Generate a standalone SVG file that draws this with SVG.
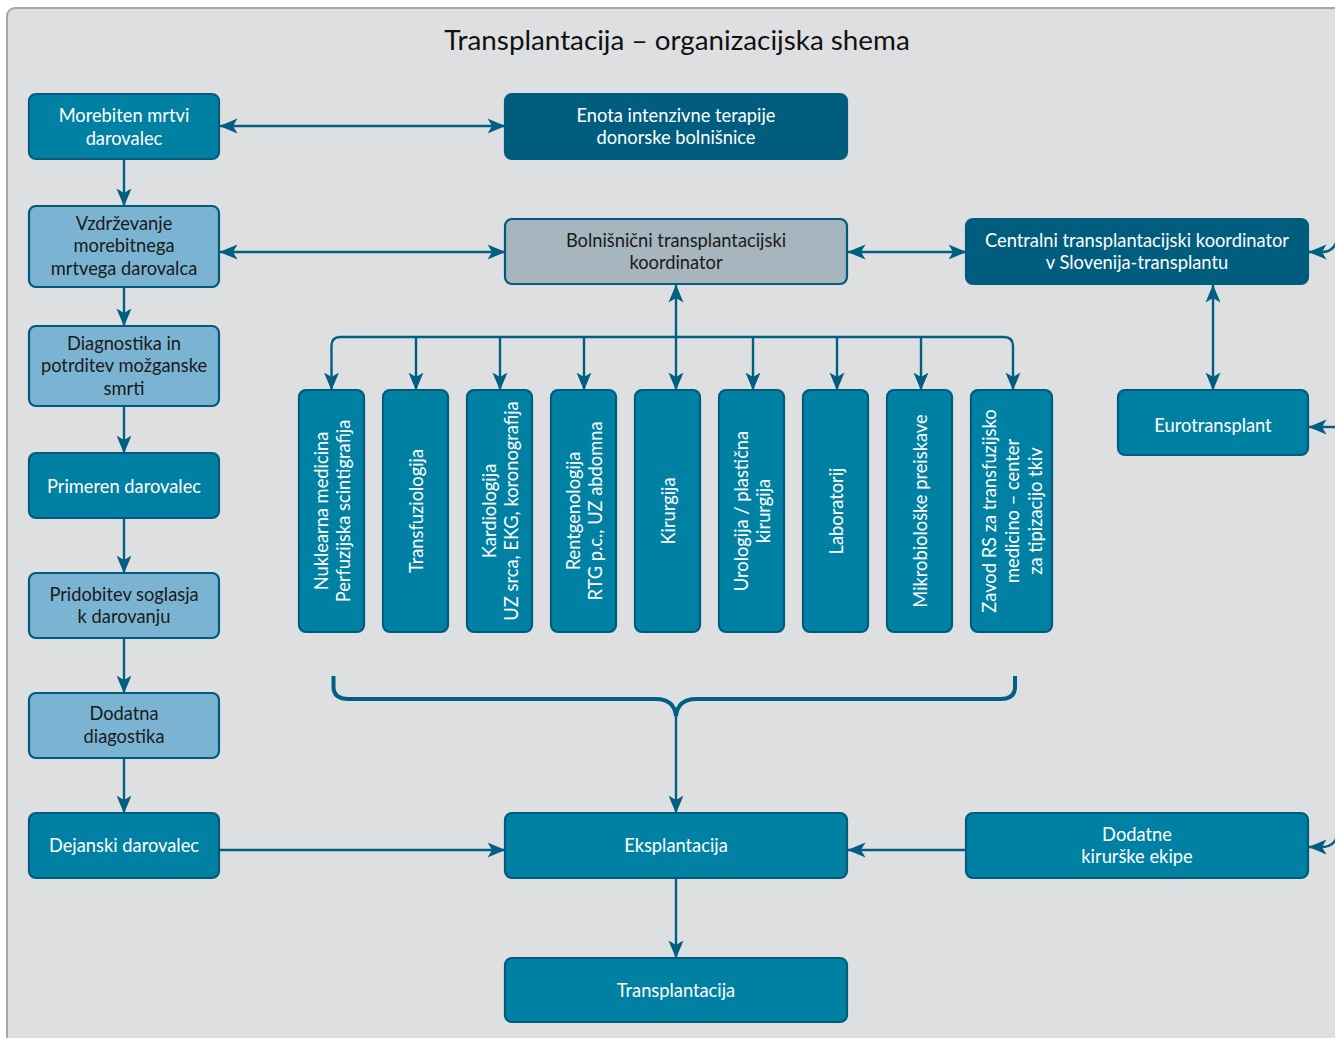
<svg xmlns="http://www.w3.org/2000/svg" width="1335" height="1038" viewBox="0 0 1335 1038">
<style>
.box{stroke:#005b7c;stroke-width:2.2}
.mid{fill:#0081a3}
.dark{fill:#005d7e}
.light{fill:#7ab4d2}
.grey{fill:#a7b5bf}
text{font-family:"Source Sans Pro","Lato","Noto Sans",sans-serif;font-size:18.3px;text-anchor:middle;dominant-baseline:central}
.w{fill:#ffffff}
.k{fill:#1a1a1a}
.con{fill:none;stroke:#005f82;stroke-width:2.4}
</style>
<defs>
<marker id="ah" viewBox="0 0 18 16" refX="17.5" refY="8" markerWidth="18" markerHeight="16" markerUnits="userSpaceOnUse" orient="auto-start-reverse">
<path d="M0,0.5 L18,8 L0,15.5 L4.5,8 Z" fill="#005f82"/>
</marker>
</defs>
<rect x="0" y="0" width="1335" height="1038" fill="#ffffff"/>
<rect x="7" y="8" width="1345" height="1050" rx="8" fill="#dedfe1" stroke="#a5a6a8" stroke-width="2"/>
<text x="677" y="39" style="font-size:27.8px;fill:#111111">Transplantacija – organizacijska shema</text>

<g id="connectors">
<path class="con" d="M124,159 L124,206" marker-end="url(#ah)"/>
<path class="con" d="M124,287 L124,326" marker-end="url(#ah)"/>
<path class="con" d="M124,406 L124,453" marker-end="url(#ah)"/>
<path class="con" d="M124,518 L124,573" marker-end="url(#ah)"/>
<path class="con" d="M124,638 L124,693" marker-end="url(#ah)"/>
<path class="con" d="M124,758 L124,813" marker-end="url(#ah)"/>
<path class="con" d="M220,126 L505,126" marker-start="url(#ah)" marker-end="url(#ah)"/>
<path class="con" d="M220,252 L505,252" marker-start="url(#ah)" marker-end="url(#ah)"/>
<path class="con" d="M848,252 L966,252" marker-start="url(#ah)" marker-end="url(#ah)"/>
<path class="con" d="M1213,285 L1213,390" marker-start="url(#ah)" marker-end="url(#ah)"/>
<path class="con" d="M676,285 L676,390" marker-start="url(#ah)" marker-end="url(#ah)"/>
<path class="con" d="M676,337 L340,337 Q331.5,337 331.5,346 L331.5,390" marker-end="url(#ah)"/>
<path class="con" d="M676,337 L1004,337 Q1013,337 1013,346 L1013,390" marker-end="url(#ah)"/>
<path class="con" d="M416,337 L416,390" marker-end="url(#ah)"/>
<path class="con" d="M500,337 L500,390" marker-end="url(#ah)"/>
<path class="con" d="M584,337 L584,390" marker-end="url(#ah)"/>
<path class="con" d="M753,337 L753,390" marker-end="url(#ah)"/>
<path class="con" d="M837,337 L837,390" marker-end="url(#ah)"/>
<path class="con" d="M921,337 L921,390" marker-end="url(#ah)"/>
<path class="con" style="stroke-width:4" d="M333.5,676 L333.5,687 Q333.5,699 349,699 L656,699 Q674,699 676,716 Q678,699 696,699 L1000,699 Q1015,699 1015,687 L1015,676"/>
<path class="con" d="M676,716 L676,813" marker-end="url(#ah)"/>
<path class="con" d="M220,850 L505,850" marker-end="url(#ah)"/>
<path class="con" d="M966,850 L848,850" marker-end="url(#ah)"/>
<path class="con" d="M676,879 L676,958" marker-end="url(#ah)"/>
<path class="con" d="M1336,243 Q1332,252 1322,252 L1309,252" marker-end="url(#ah)"/>
<path class="con" d="M1336,427 L1309,427" marker-end="url(#ah)"/>
<path class="con" d="M1336,839 Q1332,847 1322,847 L1309,847" marker-end="url(#ah)"/>
</g>

<g id="n-morebiten"><rect class="box mid" x="29" y="94" width="190" height="65" rx="7"/><text class="w" x="124" y="115">Morebiten mrtvi</text><text class="w" x="124" y="138">darovalec</text></g>
<g id="n-vzdrzevanje"><rect class="box light" x="29" y="206" width="190" height="81" rx="7"/><text class="k" x="124" y="223">Vzdrževanje</text><text class="k" x="124" y="245">morebitnega</text><text class="k" x="124" y="268">mrtvega darovalca</text></g>
<g id="n-diagnostika"><rect class="box light" x="29" y="326" width="190" height="80" rx="7"/><text class="k" x="124" y="343">Diagnostika in</text><text class="k" x="124" y="365">potrditev možganske</text><text class="k" x="124" y="388">smrti</text></g>
<g id="n-primeren"><rect class="box mid" x="29" y="453" width="190" height="65" rx="7"/><text class="w" x="124" y="485.5">Primeren darovalec</text></g>
<g id="n-pridobitev"><rect class="box light" x="29" y="573" width="190" height="65" rx="7"/><text class="k" x="124" y="594">Pridobitev soglasja</text><text class="k" x="124" y="616">k darovanju</text></g>
<g id="n-dodatna"><rect class="box light" x="29" y="693" width="190" height="65" rx="7"/><text class="k" x="124" y="713">Dodatna</text><text class="k" x="124" y="736">diagostika</text></g>
<g id="n-dejanski"><rect class="box mid" x="29" y="813" width="190" height="65" rx="7"/><text class="w" x="124" y="845">Dejanski darovalec</text></g>

<g id="n-enota"><rect class="box dark" x="505" y="94" width="342" height="65" rx="7"/><text class="w" x="676" y="115">Enota intenzivne terapije</text><text class="w" x="676" y="137">donorske bolnišnice</text></g>
<g id="n-bolnisnicni"><rect class="box grey" x="505" y="219" width="342" height="65" rx="7"/><text class="k" x="676" y="240">Bolnišnični transplantacijski</text><text class="k" x="676" y="262">koordinator</text></g>
<g id="n-centralni"><rect class="box dark" x="966" y="219" width="342" height="65" rx="7"/><text class="w" x="1137" y="240">Centralni transplantacijski koordinator</text><text class="w" x="1137" y="262">v Slovenija-transplantu</text></g>
<g id="n-eurotransplant"><rect class="box mid" x="1118" y="390" width="190" height="65" rx="7"/><text class="w" x="1213" y="425">Eurotransplant</text></g>

<g id="n-nuklearna"><rect class="box mid" x="299" y="390" width="65" height="242" rx="7"/><g transform="translate(331.5,511) rotate(-90)"><text class="w" x="0" y="-11">Nuklearna medicina</text><text class="w" x="0" y="11">Perfuzijska scintigrafija</text></g></g>
<g id="n-transfuziologija"><rect class="box mid" x="383" y="390" width="65" height="242" rx="7"/><g transform="translate(415.5,511) rotate(-90)"><text class="w" x="0" y="0">Transfuziologija</text></g></g>
<g id="n-kardiologija"><rect class="box mid" x="467" y="390" width="65" height="242" rx="7"/><g transform="translate(499.5,511) rotate(-90)"><text class="w" x="0" y="-11">Kardiologija</text><text class="w" x="0" y="11">UZ srca, EKG, koronografija</text></g></g>
<g id="n-rentgenologija"><rect class="box mid" x="551" y="390" width="65" height="242" rx="7"/><g transform="translate(583.5,511) rotate(-90)"><text class="w" x="0" y="-11">Rentgenologija</text><text class="w" x="0" y="11">RTG p.c., UZ abdomna</text></g></g>
<g id="n-kirurgija"><rect class="box mid" x="635" y="390" width="65" height="242" rx="7"/><g transform="translate(667.5,511) rotate(-90)"><text class="w" x="0" y="0">Kirurgija</text></g></g>
<g id="n-urologija"><rect class="box mid" x="719" y="390" width="65" height="242" rx="7"/><g transform="translate(751.5,511) rotate(-90)"><text class="w" x="0" y="-11">Urologija / plastična</text><text class="w" x="0" y="11">kirurgija</text></g></g>
<g id="n-laboratorij"><rect class="box mid" x="803" y="390" width="65" height="242" rx="7"/><g transform="translate(835.5,511) rotate(-90)"><text class="w" x="0" y="0">Laboratorij</text></g></g>
<g id="n-mikrobioloske"><rect class="box mid" x="887" y="390" width="65" height="242" rx="7"/><g transform="translate(919.5,511) rotate(-90)"><text class="w" x="0" y="0">Mikrobiološke preiskave</text></g></g>
<g id="n-zavod"><rect class="box mid" x="971" y="390" width="81" height="242" rx="7"/><g transform="translate(1011.5,511) rotate(-90)"><text class="w" x="0" y="-23">Zavod RS za transfuzijsko</text><text class="w" x="0" y="0">medicino – center</text><text class="w" x="0" y="23">za tipizacijo tkiv</text></g></g>

<g id="n-eksplantacija"><rect class="box mid" x="505" y="813" width="342" height="65" rx="7"/><text class="w" x="676" y="845">Eksplantacija</text></g>
<g id="n-transplantacija"><rect class="box mid" x="505" y="958" width="342" height="64" rx="7"/><text class="w" x="676" y="990">Transplantacija</text></g>
<g id="n-dodatne"><rect class="box mid" x="966" y="813" width="342" height="65" rx="7"/><text class="w" x="1137" y="834">Dodatne</text><text class="w" x="1137" y="856">kirurške ekipe</text></g>
</svg>
